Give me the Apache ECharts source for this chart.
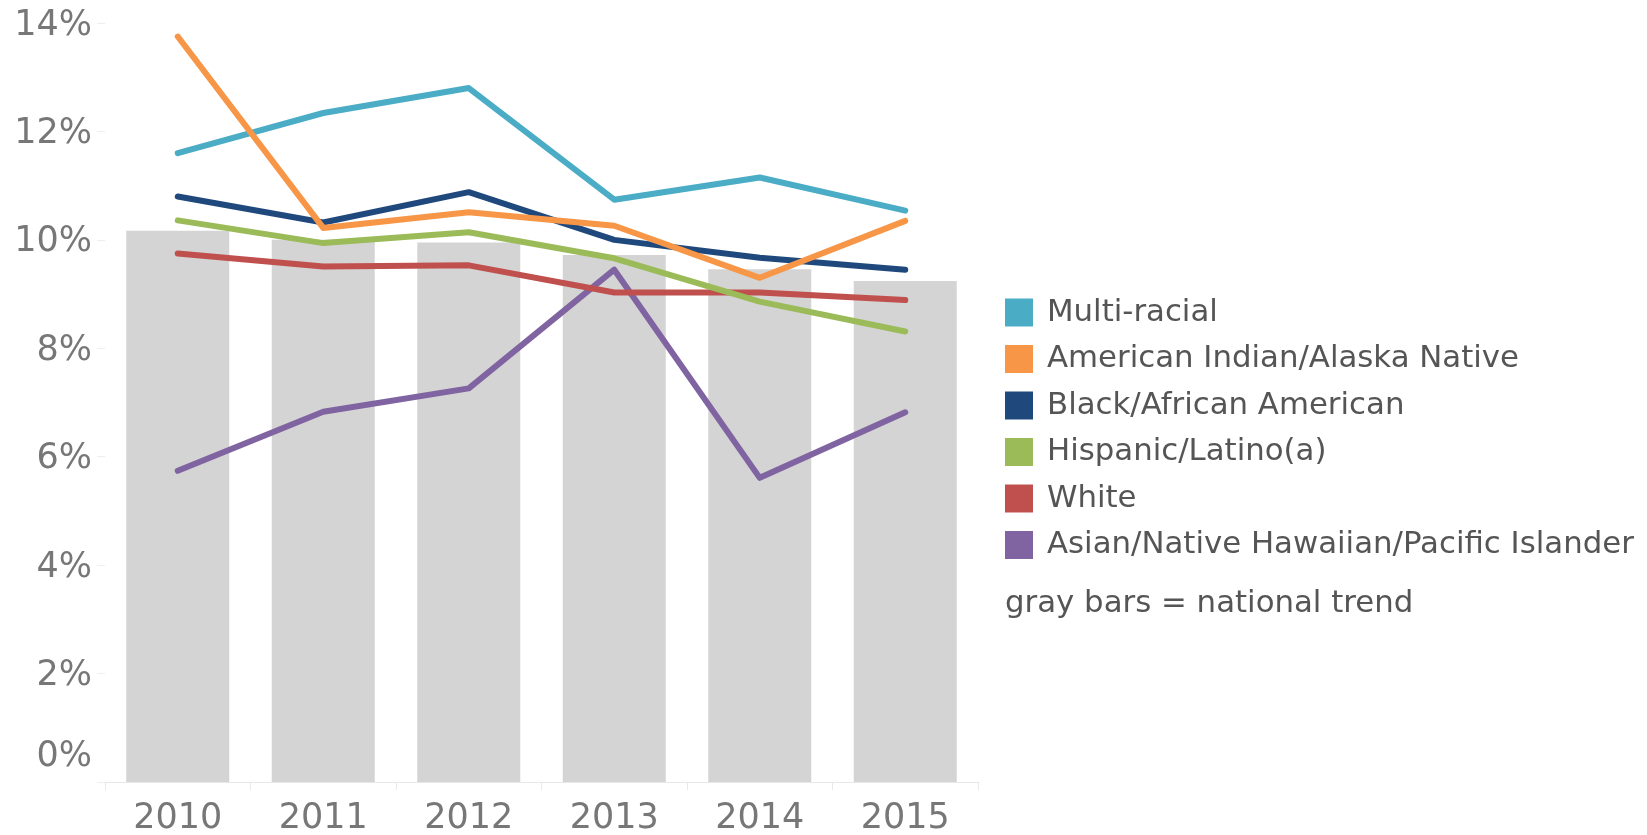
<!DOCTYPE html>
<html>
<head>
<meta charset="utf-8">
<title>Rates by race/ethnicity vs national trend</title>
<script src="https://cdn.jsdelivr.net/npm/echarts@6/dist/echarts.min.js"></script>
<style>
  html, body { margin: 0; padding: 0; background: #fff; }
  #chart { width: 1647px; height: 835px; }
</style>
</head>
<body>
<div id="chart"></div>
<script>
const years = ["2010", "2011", "2012", "2013", "2014", "2015"];

const nationalTrend = [10.17, 10.0, 9.95, 9.72, 9.46, 9.24];

const multiRacial = [11.6, 12.34, 12.8, 10.74, 11.15, 10.54];
const americanIndian = [13.75, 10.22, 10.51, 10.26, 9.3, 10.35];
const black = [10.8, 10.32, 10.88, 10.0, 9.67, 9.45];
const hispanic = [10.36, 9.94, 10.14, 9.66, 8.86, 8.31];
const white = [9.75, 9.51, 9.53, 9.03, 9.03, 8.89];
const asian = [5.74, 6.83, 7.26, 9.45, 5.61, 6.82];

const yTicks = { min: 0, max: 14, interval: 2 };

const legendNames = [
  "Multi-racial",
  "American Indian/Alaska Native",
  "Black/African American",
  "Hispanic/Latino(a)",
  "White",
  "Asian/Native Hawaiian/Pacific Islander",
];

const colors = {
  "Multi-racial": "#4bacc6",
  "American Indian/Alaska Native": "#f79646",
  "Black/African American": "#1f497d",
  "Hispanic/Latino(a)": "#9bbb59",
  "White": "#c0504d",
  "Asian/Native Hawaiian/Pacific Islander": "#8064a2",
};

// drawing order, last one ends up on top
const lineSeries = [
  ["Asian/Native Hawaiian/Pacific Islander", asian],
  ["White", white],
  ["Hispanic/Latino(a)", hispanic],
  ["Black/African American", black],
  ["Multi-racial", multiRacial],
  ["American Indian/Alaska Native", americanIndian],
];

const axisFont = "'DejaVu Sans', sans-serif";
const legendFont = "'DejaVu Sans', sans-serif";

const chart = echarts.init(document.getElementById("chart"));

chart.setOption({
  animation: false,
  grid: { left: 105, right: 669, top: 23, bottom: 53, outerBoundsMode: "none" },
  legend: {
    orient: "vertical",
    left: 1005,
    top: 297,
    padding: 0,
    data: legendNames.map((name) => ({ name, itemStyle: { color: colors[name] } })),
    icon: "rect",
    itemWidth: 28,
    itemHeight: 28,
    itemGap: 15.5,
    selectedMode: false,
    textStyle: {
      fontFamily: legendFont,
      fontSize: 30.8,
      color: "#555",
      padding: [0, 0, 0, 9],
    },
  },
  graphic: [
    {
      type: "text",
      left: 1005,
      top: 588,
      silent: true,
      style: {
        text: "gray bars = national trend",
        fontFamily: legendFont,
        fontSize: 30.8,
        fill: "#555",
      },
    },
  ],
  xAxis: {
    type: "category",
    data: years,
    boundaryGap: true,
    axisLine: { lineStyle: { color: "#e8e8e8", width: 1 } },
    axisTick: { show: true, length: 8, lineStyle: { color: "#e8e8e8" } },
    axisLabel: {
      color: "#777",
      fontFamily: axisFont,
      fontSize: 35,
      lineHeight: 35,
      margin: 19,
    },
  },
  yAxis: {
    type: "value",
    min: yTicks.min,
    max: yTicks.max,
    interval: yTicks.interval,
    splitLine: { show: false },
    axisLine: { show: false },
    axisTick: { show: true, length: 8, lineStyle: { color: "#eeeeee" } },
    axisLabel: {
      color: "#777",
      fontFamily: axisFont,
      fontSize: 35,
      margin: 13,
      // the bottom label sits above its tick, as in the original
      formatter: (value) => (value === 0 ? "{z|0%}" : `{v|${value}%}`),
      rich: {
        v: {
          fontFamily: axisFont,
          fontSize: 35,
          color: "#777",
          padding: [5, 0, 0, 0],
        },
        z: {
          fontFamily: axisFont,
          fontSize: 35,
          color: "#777",
          padding: [5, 0, 55, 0],
        },
      },
    },
  },
  series: [
    {
      name: "National trend",
      type: "bar",
      data: nationalTrend,
      barWidth: 103,
      silent: true,
      itemStyle: { color: "#d4d4d4" },
      z: 1,
    },
    ...lineSeries.map(([name, values]) => ({
      name,
      type: "line",
      data: values,
      showSymbol: false,
      symbol: "none",
      silent: true,
      z: 2,
      color: colors[name],
      lineStyle: { width: 6, color: colors[name], cap: "round", join: "round" },
    })),
  ],
});
</script>
</body>
</html>
